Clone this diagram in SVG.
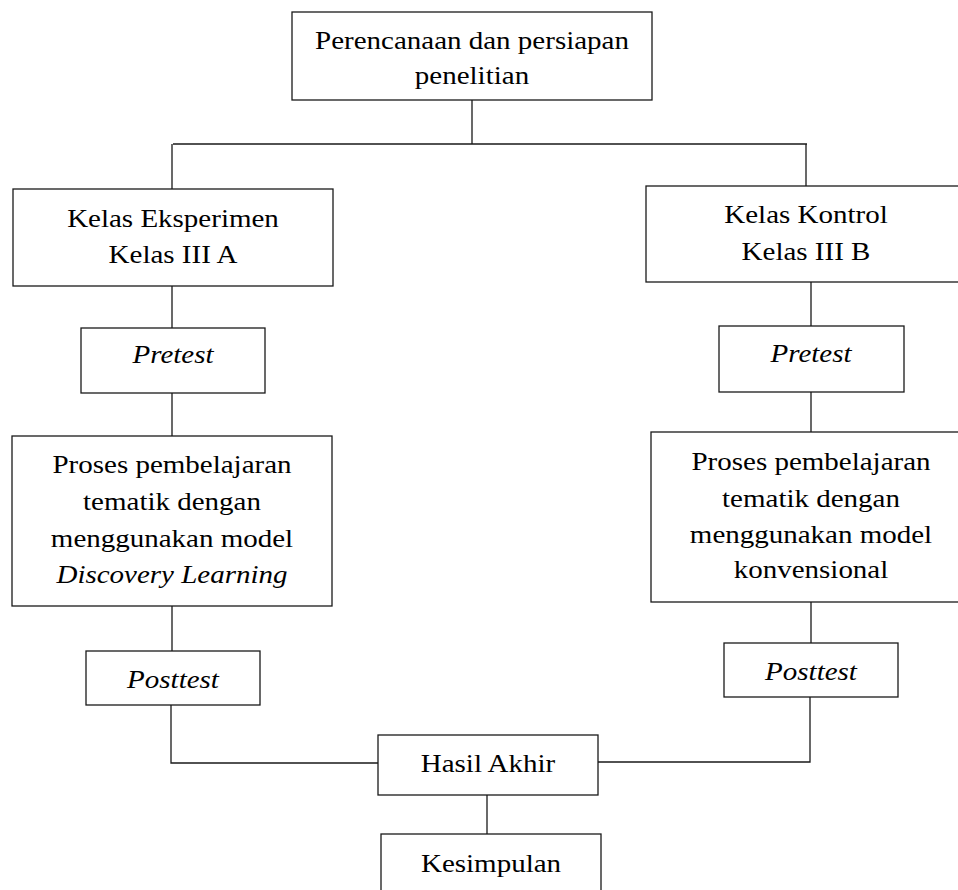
<svg xmlns="http://www.w3.org/2000/svg" width="958" height="890" viewBox="0 0 958 890">
<style>
rect.b{fill:#fff;stroke:#1a1a1a;stroke-width:1.3}
#connectors path{fill:none;stroke:#1a1a1a;stroke-width:1.3}
text{font-family:"Liberation Serif","Times New Roman",serif;font-size:25px;fill:#000;text-anchor:middle}
text.i{font-style:italic}
</style>
<rect width="958" height="890" fill="#fff"/>
<g id="connectors">
<path d="M472,100V144M173,144H807M172,144V189M806,144V186"/>
<path d="M172,286V328M172,393V436M172,606V651M171,705V763H378"/>
<path d="M811,282V326M811,392V432M811,602V643M810,697V762H598"/>
<path d="M487,795V834"/>
</g>
<g id="n-perencanaan">
<rect class="b" x="292" y="12" width="360" height="88"/>
<text transform="translate(472,49) scale(1.16,1)">Perencanaan dan persiapan</text>
<text transform="translate(472,84) scale(1.16,1)">penelitian</text>
</g>
<g id="n-eksperimen">
<rect class="b" x="13" y="189" width="320" height="97"/>
<text transform="translate(173,227) scale(1.16,1)">Kelas Eksperimen</text>
<text transform="translate(173,263) scale(1.16,1)">Kelas III A</text>
</g>
<g id="n-kontrol">
<rect class="b" x="646" y="186" width="320" height="96"/>
<text transform="translate(806,223) scale(1.16,1)">Kelas Kontrol</text>
<text transform="translate(806,260) scale(1.16,1)">Kelas III B</text>
</g>
<g id="n-pretest-a">
<rect class="b" x="81" y="328" width="184" height="65"/>
<text class="i" transform="translate(173,363) scale(1.16,1)">Pretest</text>
</g>
<g id="n-pretest-b">
<rect class="b" x="719" y="326" width="185" height="66"/>
<text class="i" transform="translate(811,362) scale(1.16,1)">Pretest</text>
</g>
<g id="n-proses-a">
<rect class="b" x="12" y="436" width="320" height="170"/>
<text transform="translate(172,473) scale(1.16,1)">Proses pembelajaran</text>
<text transform="translate(172,510) scale(1.16,1)">tematik dengan</text>
<text transform="translate(172,547) scale(1.16,1)">menggunakan model</text>
<text class="i" transform="translate(172,583) scale(1.16,1)">Discovery Learning</text>
</g>
<g id="n-proses-b">
<rect class="b" x="651" y="432" width="320" height="170"/>
<text transform="translate(811,470) scale(1.16,1)">Proses pembelajaran</text>
<text transform="translate(811,507) scale(1.16,1)">tematik dengan</text>
<text transform="translate(811,543) scale(1.16,1)">menggunakan model</text>
<text transform="translate(811,578) scale(1.16,1)">konvensional</text>
</g>
<g id="n-posttest-a">
<rect class="b" x="86" y="651" width="174" height="54"/>
<text class="i" transform="translate(173,688) scale(1.16,1)">Posttest</text>
</g>
<g id="n-posttest-b">
<rect class="b" x="724" y="643" width="174" height="54"/>
<text class="i" transform="translate(811,680) scale(1.16,1)">Posttest</text>
</g>
<g id="n-hasil">
<rect class="b" x="378" y="735" width="220" height="60"/>
<text transform="translate(488,772) scale(1.16,1)">Hasil Akhir</text>
</g>
<g id="n-kesimpulan">
<rect class="b" x="381" y="834" width="220" height="70"/>
<text transform="translate(491,872) scale(1.16,1)">Kesimpulan</text>
</g>
</svg>
